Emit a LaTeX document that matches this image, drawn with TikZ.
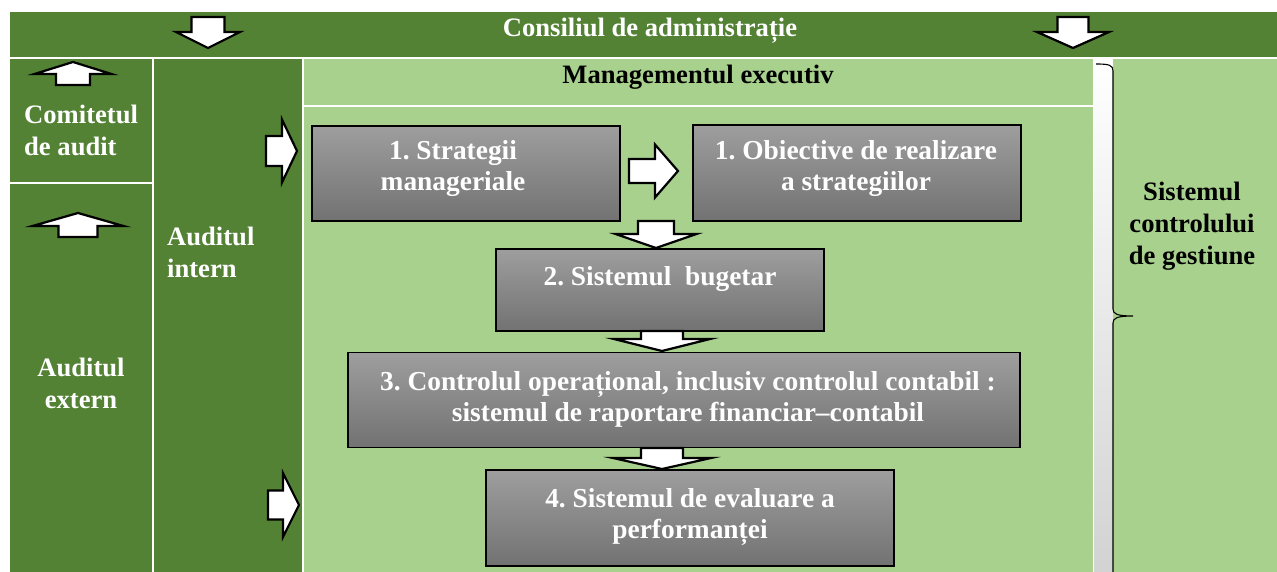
\documentclass[tikz,border=0pt]{standalone}
\usepackage{fontspec}
\setmainfont{Liberation Serif}
\frenchspacing
\definecolor{darkgreen}{RGB}{84,130,53}
\definecolor{lightgreen}{RGB}{169,209,142}
\definecolor{boxtop}{RGB}{158,158,158}
\definecolor{boxbot}{RGB}{114,114,114}
% block arrows: centre line, shaft start, head base, tip, shaft half width, head half width
\newcommand\BlkDown[6]{\draw[blockarrow] (#1-#5,#2) -- (#1+#5,#2) -- (#1+#5,#3) -- (#1+#6,#3) -- (#1,#4) -- (#1-#6,#3) -- (#1-#5,#3) -- cycle;}
\newcommand\BlkUp[6]{\draw[blockarrow] (#1-#5,#2) -- (#1+#5,#2) -- (#1+#5,#3) -- (#1+#6,#3) -- (#1,#4) -- (#1-#6,#3) -- (#1-#5,#3) -- cycle;}
\newcommand\BlkRight[6]{\draw[blockarrow] (#2,#1-#5) -- (#2,#1+#5) -- (#3,#1+#5) -- (#3,#1+#6) -- (#4,#1) -- (#3,#1-#6) -- (#3,#1-#5) -- cycle;}
\begin{document}
\begin{tikzpicture}[x=1pt,y=-1pt,
  txt/.style={font=\bfseries\fontsize{26.6}{32}\selectfont, inner sep=0pt},
  wtxt/.style={txt, text=white},
  btxt/.style={txt, text=black},
  boxtxt/.style={wtxt, font=\bfseries\fontsize{27.4}{31}\selectfont},
  stepbox/.style={draw=black, line width=1.4pt, top color=boxtop, bottom color=boxbot, inner sep=0pt},
  blockarrow/.style={draw=black, fill=white, line width=2.2pt, line join=miter}
]
\useasboundingbox (0,0) rectangle (1277,572);
\fill[white] (0,0) rectangle (1277,572);

% background regions
\fill[darkgreen] (10,12) rectangle (1277,57);
\fill[darkgreen] (10,59) rectangle (152,182);
\fill[darkgreen] (10,184) rectangle (152,572);
\fill[darkgreen] (154,59) rectangle (302,572);
\fill[lightgreen] (304,59) rectangle (1093,105);
\fill[lightgreen] (304,107) rectangle (1093,572);
\fill[top color=white, bottom color=gray!35] (1094,59) rectangle (1113,572);
\fill[lightgreen] (1113,59) rectangle (1277,572);

% brace along the control system column
\draw[line width=1.1pt] (1096,64) .. controls (1109,64) and (1113,65) .. (1113,71) -- (1113,309)
  .. controls (1113,314) and (1117,316) .. (1133,316)
  .. controls (1117,316) and (1113,318) .. (1113,323) -- (1113,572);

% region labels
\node[wtxt] (consiliu) at (650,31) {Consiliul de administrație};
\node[btxt] (mgmt) at (698,77) {Managementul executiv};
\node[wtxt, anchor=west, align=left] (comitet) at (24,130) {Comitetul\\de audit};
\node[wtxt, align=center] (extern) at (81,383) {Auditul\\extern};
\node[wtxt, anchor=west, align=left] (intern) at (167,252) {Auditul\\intern};
\node[btxt, align=center] (scg) at (1192,226) {Sistemul\\controlului\\de gestiune};

% process boxes
\node[stepbox, minimum width=308pt, minimum height=95pt] (b1) at (466,173.5) {};
\node[stepbox, minimum width=328pt, minimum height=96pt] (b1b) at (857,173) {};
\node[stepbox, minimum width=328pt, minimum height=82pt] (b2) at (660,290) {};
\node[stepbox, minimum width=672pt, minimum height=95pt] (b3) at (684,400) {};
\node[stepbox, minimum width=408pt, minimum height=96pt] (b4) at (690,518) {};

\node[boxtxt, align=center] (t1) at (453,169) {1. Strategii\\manageriale};
\node[boxtxt, align=center] (t1b) at (856,169) {1. Obiective de realizare\\a strategiilor};
\node[boxtxt] (t2) at (660,279) {2. Sistemul\ \ bugetar};
\node[boxtxt, align=center] (t3) at (688,399) {3. Controlul operațional, inclusiv controlul contabil :\\sistemul de raportare financiar–contabil};
\node[boxtxt, align=center] (t4) at (690,517) {4. Sistemul de evaluare a\\performanței};

% block arrows
\BlkDown{208}{17}{32}{48}{16.5}{32}
\BlkDown{1073}{17}{32}{48}{15.5}{36}
\BlkUp{73}{85}{74}{62}{17}{38.5}
\BlkUp{78}{237}{226}{213}{19.5}{45.5}
\BlkRight{151}{266}{282}{297}{15}{31.5}
\BlkRight{505}{268}{283}{299}{14.5}{32}
\BlkRight{171}{629}{655}{678}{12}{26.5}
\BlkDown{656}{221}{234}{248}{18}{40.5}
\BlkDown{662}{331}{339}{351}{21}{48}
\BlkDown{662}{448}{458}{469}{21}{49}
\end{tikzpicture}
\end{document}
